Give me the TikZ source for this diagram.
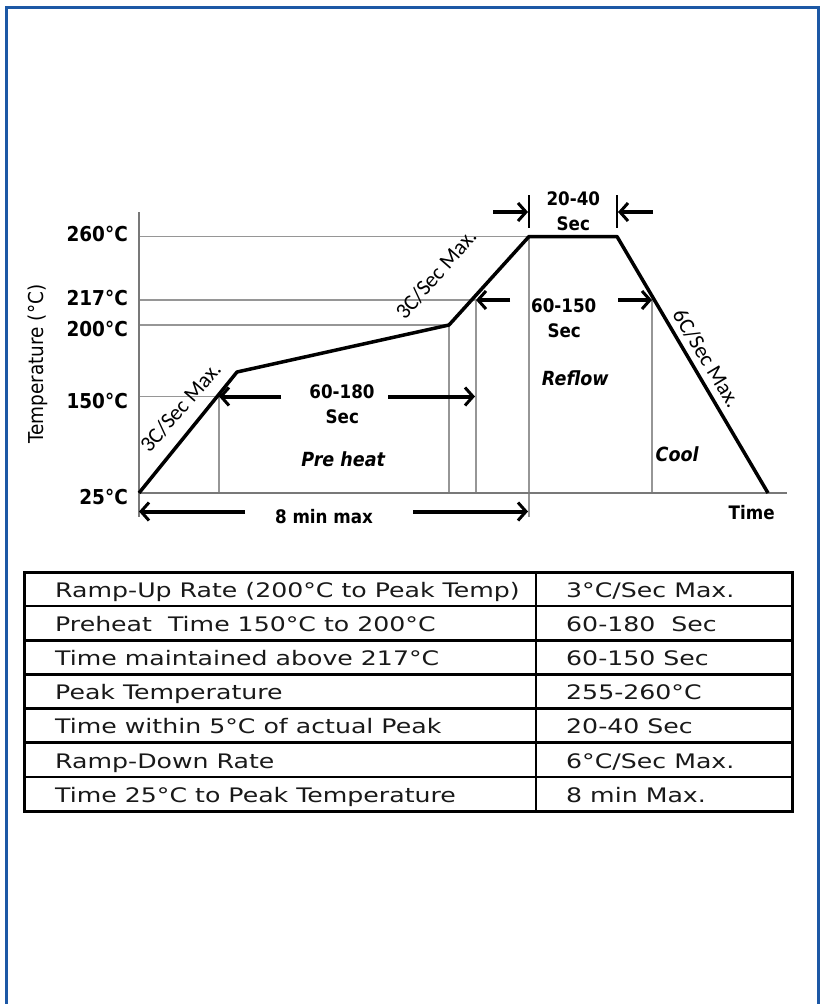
\documentclass[tikz,border=0pt]{standalone}
\usepackage{fontspec}
\usetikzlibrary{arrows.meta}
\setmainfont{DejaVu Sans}
\newfontfamily\chartfont{DejaVu Sans}[FakeStretch=0.9]
\newfontfamily\tabfont{DejaVu Sans}[FakeStretch=1.26]
\newfontfamily\calfont{Carlito}
\definecolor{frameblue}{RGB}{28,88,165}
\definecolor{gridgray}{RGB}{150,150,150}
\definecolor{axisgray}{RGB}{120,120,120}
\definecolor{tabgray}{RGB}{25,25,25}
\begin{document}
\begin{tikzpicture}[x=1pt,y=-1pt,
  frameline/.style={draw=frameblue,line width=3pt},
  gridline/.style={draw=gridgray,line width=1.2pt},
  axisline/.style={draw=axisgray,line width=1.8pt},
  profile/.style={draw=black,line width=3.5pt,line join=round},
  dimarrow/.style={draw=black,line width=4pt,-{Straight Barb[length=8pt,width=18pt,line width=3pt]}},
  tickline/.style={draw=black,line width=2pt},
  axlabel/.style={font=\chartfont\bfseries\fontsize{20.5}{22}\selectfont,anchor=base east,inner sep=0pt},
  chartlabel/.style={font=\chartfont\bfseries\fontsize{18.6}{20}\selectfont,anchor=base,inner sep=0pt},
  phaselabel/.style={font=\chartfont\bfseries\itshape\fontsize{19.5}{21}\selectfont,anchor=base,inner sep=0pt},
  ratelabel/.style={font=\calfont\fontsize{22}{24}\selectfont,inner sep=0pt},
  tabtext/.style={font=\tabfont\fontsize{20}{22}\selectfont,anchor=base west,inner sep=0pt,text=tabgray},
  tabline/.style={draw=black,line width=2.5pt},
]
\useasboundingbox (0,0) rectangle (821,1004);
% frame
\draw[frameline] (6,1004) -- (6,7) -- (818.5,7) -- (818.5,1004);

% key coordinates
\coordinate (O) at (139,493);
\coordinate (K1) at (237,372);
\coordinate (K2) at (449,325);
\coordinate (P1) at (529,236.5);
\coordinate (P2) at (617,236.5);
\coordinate (E) at (768,493);
\coordinate (Ytop) at (139,212);
\coordinate (Ybot) at (139,517);
\coordinate (Xend) at (787,493);
\coordinate (G150) at (219,396.5);
\coordinate (G217) at (476,300);
\coordinate (G217r) at (652,300);

% grid lines
\draw[gridline] (139,236.5) -- (P1);
\draw[gridline] (139,300) -- (G217);
\draw[gridline] (139,325) -- (K2);
\draw[gridline] (139,396.5) -- (G150);
\draw[gridline] (G150) -- (219,493);
\draw[gridline] (K2) -- (449,493);
\draw[gridline] (G217) -- (476,493);
\draw[gridline] (P1) -- (529,517);
\draw[gridline] (G217r) -- (652,493);

% axes
\draw[axisline] (Ytop) -- (Ybot);
\draw[axisline] (O) -- (Xend);

% profile
\draw[profile] (O) -- (K1) -- (K2) -- (P1) -- (P2) -- (E);

% dimension arrows
\coordinate (a1s) at (281,396.5);
\coordinate (a2s) at (388,396.5);
\coordinate (a2e) at (475,396.5);
\coordinate (a3s) at (245,511.5);
\coordinate (a3e) at (139,511.5);
\coordinate (a4s) at (413,511.5);
\coordinate (a4e) at (528,511.5);
\coordinate (a5s) at (510,300);
\coordinate (a6s) at (618,300);
\coordinate (a7s) at (493,212);
\coordinate (a7e) at (528,212);
\coordinate (a8s) at (653,212);
\coordinate (a8e) at (618,212);
\coordinate (t1a) at (529,195);
\coordinate (t1b) at (529,228);
\coordinate (t2a) at (617,195);
\coordinate (t2b) at (617,228);
\draw[dimarrow] (a1s) -- (G150);
\draw[dimarrow] (a2s) -- (a2e);
\draw[dimarrow] (a3s) -- (a3e);
\draw[dimarrow] (a4s) -- (a4e);
\draw[dimarrow] (a5s) -- (G217);
\draw[dimarrow] (a6s) -- (G217r);
\draw[dimarrow] (a7s) -- (a7e);
\draw[dimarrow] (a8s) -- (a8e);
\draw[tickline] (t1a) -- (t1b);
\draw[tickline] (t2a) -- (t2b);

% axis labels
\node[axlabel] (y260) at (128,241.7) {260°C};
\node[axlabel] (y217) at (128,305) {217°C};
\node[axlabel] (y200) at (128,336.7) {200°C};
\node[axlabel] (y150) at (128,408.3) {150°C};
\node[axlabel] (y25) at (128,504) {25°C};
\node[font=\chartfont\fontsize{20.5}{22}\selectfont,anchor=base,inner sep=0pt,rotate=90] (ytitle) at (43.3,364.2) {Temperature (°C)};
\node[chartlabel] (xtitle) at (751.7,519.3) {Time};

% chart labels
\node[chartlabel] (ph1) at (342,398.3) {60-180};
\node[chartlabel] (ph2) at (342.3,423.3) {Sec};
\node[chartlabel] (tot) at (324,523.3) {8 min max};
\node[chartlabel] (rf1) at (563.7,312.7) {60-150};
\node[chartlabel] (rf2) at (564.2,337.3) {Sec};
\node[chartlabel] (pk1) at (573.3,205) {20-40};
\node[chartlabel] (pk2) at (573.3,230.7) {Sec};
\node[phaselabel] (preheat) at (343.3,466) {Pre heat};
\node[phaselabel] (reflow) at (575.3,385) {Reflow};
\node[phaselabel] (cool) at (677.2,461.7) {Cool};

% rate labels
\node[ratelabel,rotate=49] (r1) at (180.5,407) {3C/Sec Max.};
\node[ratelabel,rotate=49] (r2) at (436,274) {3C/Sec Max.};
\node[ratelabel,rotate=-59] (r3) at (706.6,358.5) {6C/Sec Max.};

% table
\draw[tabline] (536,572) -- (536,811);
\foreach \i in {1,...,6}{
  \draw[tabline] (24,{572+34.143*\i}) -- (792,{572+34.143*\i});
}
\draw[draw=black,line width=3pt] (24,572) rectangle (792,811);
\foreach \i/\l/\r in {0/{Ramp-Up Rate (200°C to Peak Temp)}/{3°C/Sec Max.},
                      1/{Preheat\ \ Time 150°C to 200°C}/{60-180\ \ Sec},
                      2/{Time maintained above 217°C}/{60-150 Sec},
                      3/{Peak Temperature}/{255-260°C},
                      4/{Time within 5°C of actual Peak}/{20-40 Sec},
                      5/{Ramp-Down Rate}/{6°C/Sec Max.},
                      6/{Time 25°C to Peak Temperature}/{8 min Max.}}{
  \node[tabtext] (L\i) at (55,{597.4+34.143*\i}) {\l};
  \node[tabtext] (R\i) at (566,{597.4+34.143*\i}) {\r};
}
\end{tikzpicture}
\end{document}
